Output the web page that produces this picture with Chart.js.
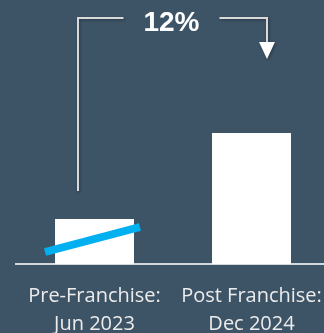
<!DOCTYPE html>
<html>
<head>
<meta charset="utf-8">
<script src="https://cdn.jsdelivr.net/npm/chart.js@4"></script>
<style>
  html, body { margin: 0; padding: 0; background: #3d5366; overflow: hidden; }
  #wrap { position: relative; width: 332px; height: 356px; }
</style>
</head>
<body>
<div id="wrap"><canvas id="chart"></canvas></div>
<script>
// Chart data (bar heights, arbitrary units)
const categories = [["Pre-Franchise:", "Jun 2023"], ["Post Franchise:", "Dec 2024"]];
const values = [45, 131];
const changeLabel = "12%";

// Draws the slanted cyan stroke on the first bar and the bracket arrow
const annotations = {
  id: "annotations",
  afterDatasetsDraw(chart) {
    const ctx = chart.ctx;
    const bars = chart.getDatasetMeta(0).data;
    const b1 = bars[0];
    const b2 = bars[1];

    // cyan slash across the first bar
    ctx.save();
    ctx.strokeStyle = "#00b0f0";
    ctx.lineWidth = 8;
    ctx.beginPath();
    ctx.moveTo(b1.x - b1.width / 2 - 10, b1.base - 12);
    ctx.lineTo(b1.x + b1.width / 2 + 6, b1.y + 8);
    ctx.stroke();
    ctx.restore();

    // bracket from bar 1 to bar 2
    const leftX = b1.x - 16.5;
    const rightX = b2.x + 15.5;
    const topY = 18;
    const midX = (leftX + rightX) / 2;
    const tipY = 59;

    ctx.save();
    ctx.shadowColor = "rgba(0,0,0,0.35)";
    ctx.shadowBlur = 3;
    ctx.shadowOffsetX = 1;
    ctx.shadowOffsetY = 1;
    ctx.strokeStyle = "#d9d9d9";
    ctx.lineWidth = 2;
    ctx.beginPath();
    ctx.moveTo(leftX, b1.y - 28);
    ctx.lineTo(leftX, topY);
    ctx.lineTo(midX - 49, topY);
    ctx.moveTo(midX + 47, topY);
    ctx.lineTo(rightX, topY);
    ctx.lineTo(rightX, tipY - 14);
    ctx.stroke();

    ctx.fillStyle = "#ffffff";
    ctx.beginPath();
    ctx.moveTo(rightX - 8, tipY - 17);
    ctx.lineTo(rightX + 8, tipY - 17);
    ctx.lineTo(rightX, tipY);
    ctx.closePath();
    ctx.fill();
    ctx.restore();

    ctx.save();
    ctx.fillStyle = "#ffffff";
    ctx.font = "bold 28px 'Liberation Sans', Arial, sans-serif";
    ctx.textAlign = "center";
    ctx.textBaseline = "middle";
    ctx.fillText(changeLabel, midX - 1, 23);
    ctx.restore();
  }
};

new Chart(document.getElementById("chart"), {
  type: "bar",
  data: {
    labels: categories,
    datasets: [{
      data: values,
      backgroundColor: "#ffffff",
      borderWidth: 0,
      categoryPercentage: 1,
      barPercentage: 0.503
    }]
  },
  options: {
    responsive: true,
    maintainAspectRatio: false,
    animation: false,
    layout: { padding: { top: 64, left: 16, right: 2, bottom: 0 } },
    plugins: { legend: { display: false }, tooltip: { enabled: false } },
    scales: {
      x: {
        grid: { display: false, drawTicks: false },
        border: { display: true, color: "#d4d8dc", width: 2 },
        ticks: {
          color: "#ececec",
          padding: 18,
          maxRotation: 0,
          autoSkip: false,
          font: { family: "'Open Sans', sans-serif", size: 20, lineHeight: 1.4 }
        },
        // labels may run off the edge, like in the original
        afterFit(scale) {
          scale.paddingLeft = 0;
          scale.paddingRight = 0;
        }
      },
      y: { display: false, min: 0, max: 200 }
    }
  },
  plugins: [annotations]
});
</script>
</body>
</html>
